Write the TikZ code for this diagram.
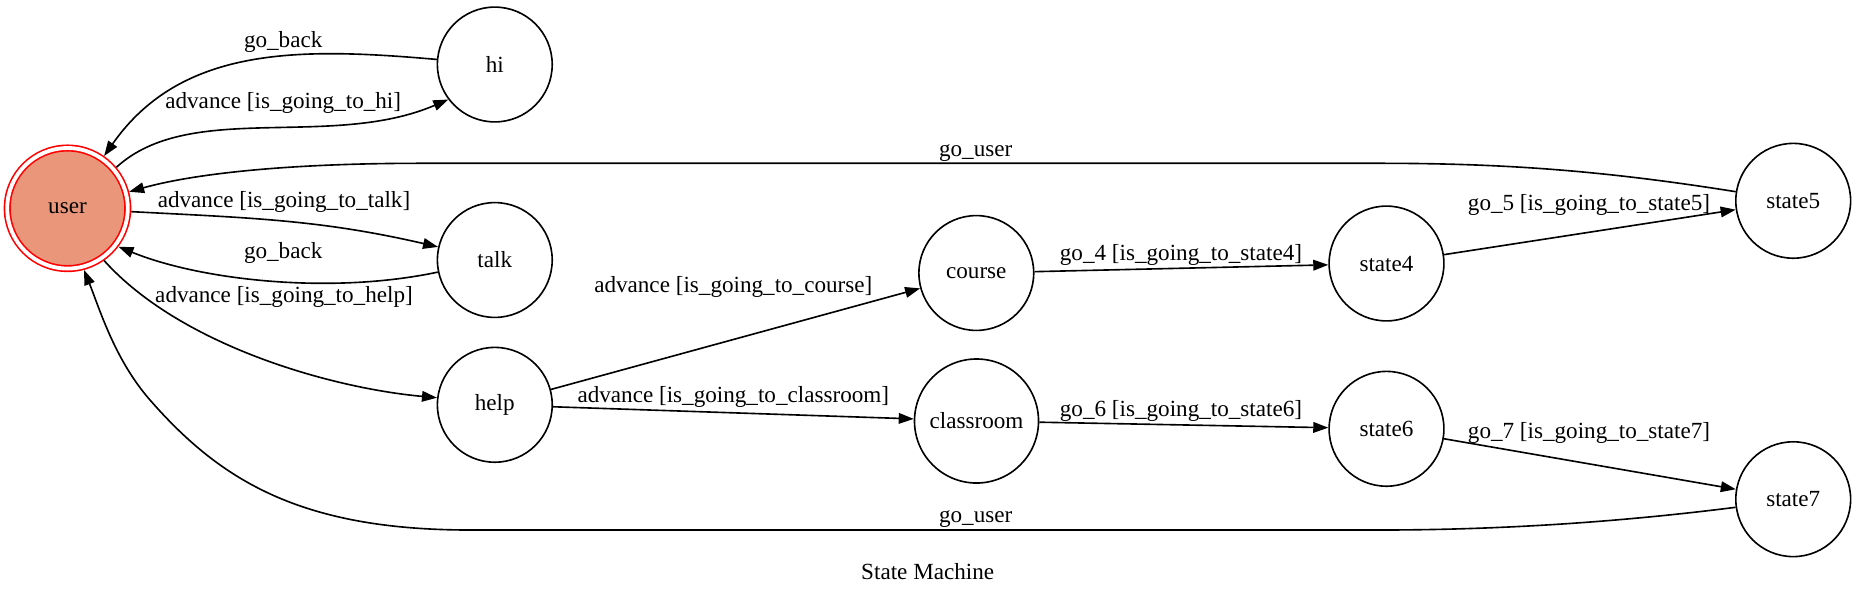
\documentclass[tikz,border=0pt]{standalone}
\usepackage{fontspec}
\setmainfont{Liberation Serif}
\usepackage{xcolor}
\usetikzlibrary{arrows.meta,shapes.geometric}
\definecolor{userfill}{RGB}{233,150,122}

\begin{document}
\begin{tikzpicture}[x=0.0152cm,y=0.0152cm,line width=0.7pt,
  >={Triangle[length=6.5pt,width=4.6pt]},
  st/.style={circle,draw,inner sep=0pt,minimum size=1.745cm},
  lbl/.style={inner sep=0pt}]
\useasboundingbox (0,0) rectangle (1856,-595);

% states
\node[circle,draw=red,fill=userfill,double,double distance=1.67pt,
  inner sep=0pt,minimum size=1.832cm,outer sep=1.535pt] (user) at (67.5,-208.3) {user};
\node[st] (hi) at (494.8,-64.5) {hi};
\node[st] (talk) at (494.8,-260) {talk};
\node[st] (help) at (494.8,-404.8) {help};
\node[st] (course) at (976.3,-273) {course};
\node[st,minimum size=1.885cm] (classroom) at (976.5,-421) {classroom};
\node[st] (state4) at (1386.5,-263.5) {state4};
\node[st] (state5) at (1793.2,-200.8) {state5};
\node[st] (state6) at (1386.5,-428.8) {state6};
\node[st] (state7) at (1793.2,-499.2) {state7};

% user <-> hi, talk, help
\draw[->] (user.40) .. controls (190,-100) and (330,-150) .. (hi.217)
  node[lbl] at (283.2,-103.3) {advance [is\_going\_to\_hi]};
\draw[->] (hi) to[out=175,in=55] (user)
  node[lbl] at (283.2,-41.7) {go\_back};
\draw[->] (user) to[out=-3,in=167] (talk)
  node[lbl] at (284,-201.7) {advance [is\_going\_to\_talk]};
\draw[->] (talk.192) .. controls (330,-295) and (200,-280) .. (user.-37)
  node[lbl] at (283.2,-253.3) {go\_back};
\draw[->] (user.-55) .. controls (180,-345) and (330,-388) .. (help.173)
  node[lbl] at (284,-296.7) {advance [is\_going\_to\_help]};

% help branches
\draw[->] (help) -- (course)
  node[lbl] at (733.3,-287.3) {advance [is\_going\_to\_course]};
\draw[->] (help) -- (classroom)
  node[lbl] at (733.3,-397.3) {advance [is\_going\_to\_classroom]};
\draw[->] (course) -- (state4)
  node[lbl] at (1181,-255) {go\_4 [is\_going\_to\_state4]};
\draw[->] (classroom) -- (state6)
  node[lbl] at (1181,-410.7) {go\_6 [is\_going\_to\_state6]};
\draw[->] (state4) -- (state5)
  node[lbl] at (1589,-205) {go\_5 [is\_going\_to\_state5]};
\draw[->] (state6) -- (state7)
  node[lbl] at (1589,-433.3) {go\_7 [is\_going\_to\_state7]};

% back to user
\draw[->] (state5.171) .. controls (1600,-170) and (1500,-163.3) .. (1380,-163.3)
  -- (420,-163.3) .. controls (300,-163.3) and (200,-172) .. (user.15)
  node[lbl] at (975.7,-153.3) {go\_user};
\draw[->] (state7.188) .. controls (1620,-522) and (1500,-530) .. (1380,-530)
  -- (470,-530) .. controls (300,-530) and (220,-480) .. (150,-400)
  .. controls (115,-360) and (100,-310) .. (user.-75)
  node[lbl] at (975.7,-519.3) {go\_user};

\node (title) at (927.7,-571.7) {State Machine};
\end{tikzpicture}
\end{document}
